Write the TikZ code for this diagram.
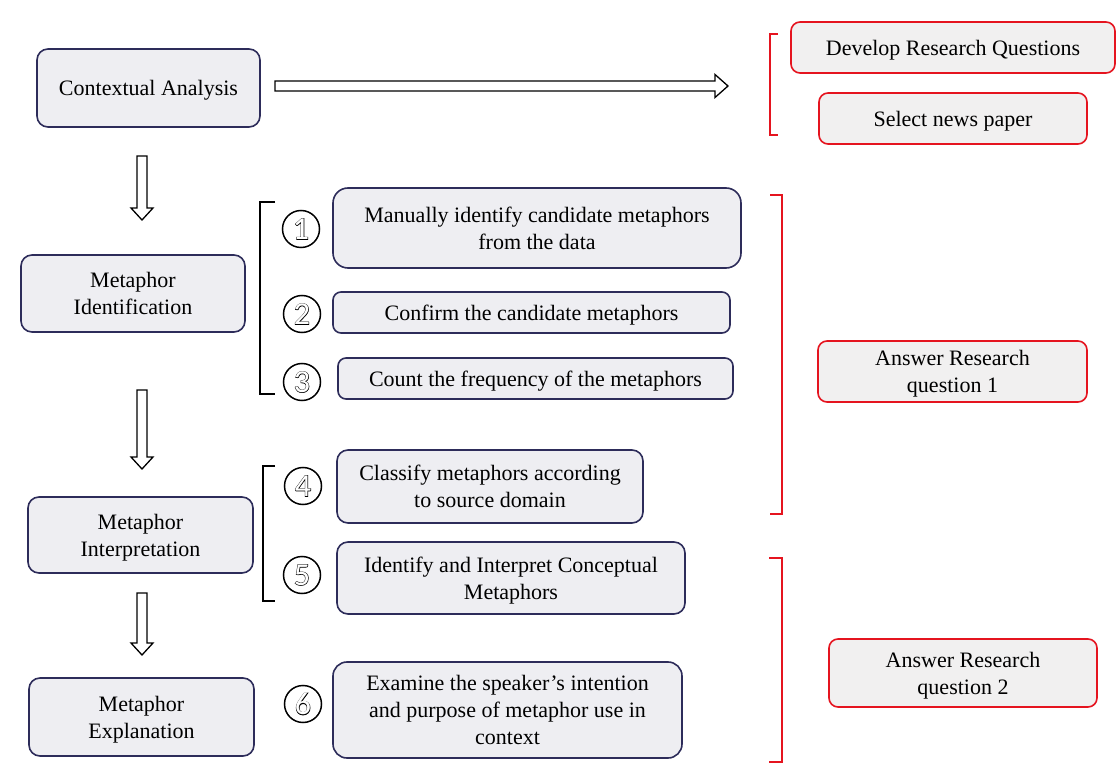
\documentclass[tikz,border=0pt]{standalone}
\usepackage{fontspec}
\setmainfont{Liberation Serif}
\newfontfamily\digitfont{Carlito}
\newfontfamily\digitbold[FakeBold=3]{Carlito}
\usetikzlibrary{calc}
\definecolor{navy}{HTML}{2D2C5A}
\definecolor{boxfill}{HTML}{EEEEF2}
\definecolor{rqred}{HTML}{E5141F}
\definecolor{rqfill}{HTML}{F1F0F0}
\newcommand\outdigit[1]{\makebox[0pt]{\digitbold\color{black}#1}\makebox[0pt]{\digitfont\color{white}#1}}
\begin{document}
\begin{tikzpicture}[x=1pt,y=-1pt,
  basebox/.style={inner sep=0pt, align=center, line width=1.6pt, text depth=0pt,
    font=\fontsize{22}{27}\selectfont},
  navybox/.style={basebox, draw=navy, fill=boxfill, rounded corners=11pt},
  redbox/.style={basebox, draw=rqred, fill=rqfill, rounded corners=9pt},
  num/.style={circle, draw=black, line width=1.5pt, fill=white, minimum size=37pt,
    inner sep=0pt, font=\fontsize{32}{32}\selectfont},
  hollow/.style={draw=black, fill=white, line width=1.3pt, line join=miter},
  blackbracket/.style={draw=black, line width=1.5pt},
  redbracket/.style={draw=rqred, line width=1.8pt}
]
\useasboundingbox (0,0) rectangle (1117,767);

% left column
\node[navybox, minimum width=223pt, minimum height=78pt] (ca) at (148.5,88) {Contextual Analysis};
\node[navybox, minimum width=224pt, minimum height=77pt] (mi) at (133,293.5) {Metaphor\\Identification};
\node[navybox, minimum width=225pt, minimum height=76pt] (mint) at (140.5,535) {Metaphor\\Interpretation};
\node[navybox, minimum width=225pt, minimum height=78pt] (me) at (141.5,717) {Metaphor\\Explanation};

% step boxes
\node[navybox, rounded corners=15pt, minimum width=408pt, minimum height=80pt] (b1) at (537,228) {Manually identify candidate metaphors\\from the data};
\node[navybox, rounded corners=8pt, minimum width=397pt, minimum height=41pt] (b2) at (531.5,312.5) {Confirm the candidate metaphors};
\node[navybox, rounded corners=8pt, minimum width=395pt, minimum height=41pt] (b3) at (535.5,378.5) {Count the frequency of the metaphors};
\node[navybox, minimum width=306pt, minimum height=73pt] (b4) at (490,486.5) {Classify metaphors according\\to source domain};
\node[navybox, minimum width=348pt, minimum height=72pt] (b5) at (511,578) {Identify and Interpret Conceptual\\Metaphors};
\node[navybox, rounded corners=14pt, minimum width=349pt, minimum height=96pt] (b6) at (507.5,710) {Examine the speaker’s intention\\and purpose of metaphor use in\\context};

% numbers
\node[num] (c1) at (301,229) {\outdigit{1}};
\node[num] (c2) at (302,314) {\outdigit{2}};
\node[num] (c3) at (302,382) {\outdigit{3}};
\node[num] (c4) at (303,486) {\outdigit{4}};
\node[num] (c5) at (302,575) {\outdigit{5}};
\node[num] (c6) at (303,704) {\outdigit{6}};

% right column
\node[redbox, minimum width=324pt, minimum height=51pt] (drq) at (953,47.5) {Develop Research Questions};
\node[redbox, minimum width=268pt, minimum height=51pt] (snp) at (953,118.5) {Select news paper};
\node[redbox, minimum width=269pt, minimum height=61pt] (rq1) at (952.5,371.5) {Answer Research\\question 1};
\node[redbox, minimum width=268pt, minimum height=68pt] (rq2) at (963,673) {Answer Research\\question 2};

% brackets
\draw[blackbracket] (275,202) -- (260,202) -- (260,394) -- (275,394);
\draw[blackbracket] (275,466) -- (263,466) -- (263,601) -- (275,601);
\draw[redbracket] (778,34) -- (770,34) -- (770,135) -- (778,135);
\draw[redbracket] (770,195) -- (782,195) -- (782,514) -- (770,514);
\draw[redbracket] (769,558) -- (782,558) -- (782,762) -- (769,762);

% hollow arrows
\coordinate (hs) at (275,86);
\coordinate (ht) at (728,86);
\coordinate (d1s) at (142,156);
\coordinate (d1t) at (142,220);
\coordinate (d2s) at (142,390);
\coordinate (d2t) at (142,469);
\coordinate (d3s) at (142,593);
\coordinate (d3t) at (142,655);
\draw[hollow] ($(hs)+(0,-5)$) -- ($(ht)+(-13,-5)$) -- ($(ht)+(-13,-11.5)$) -- (ht)
  -- ($(ht)+(-13,11.5)$) -- ($(ht)+(-13,5)$) -- ($(hs)+(0,5)$) -- cycle;
\foreach \s/\t in {d1s/d1t, d2s/d2t, d3s/d3t}{
  \draw[hollow] ($(\s)+(-5,0)$) -- ($(\t)+(-5,-12)$) -- ($(\t)+(-11,-12)$) -- (\t)
    -- ($(\t)+(11,-12)$) -- ($(\t)+(5,-12)$) -- ($(\s)+(5,0)$) -- cycle;
}
\end{tikzpicture}
\end{document}
